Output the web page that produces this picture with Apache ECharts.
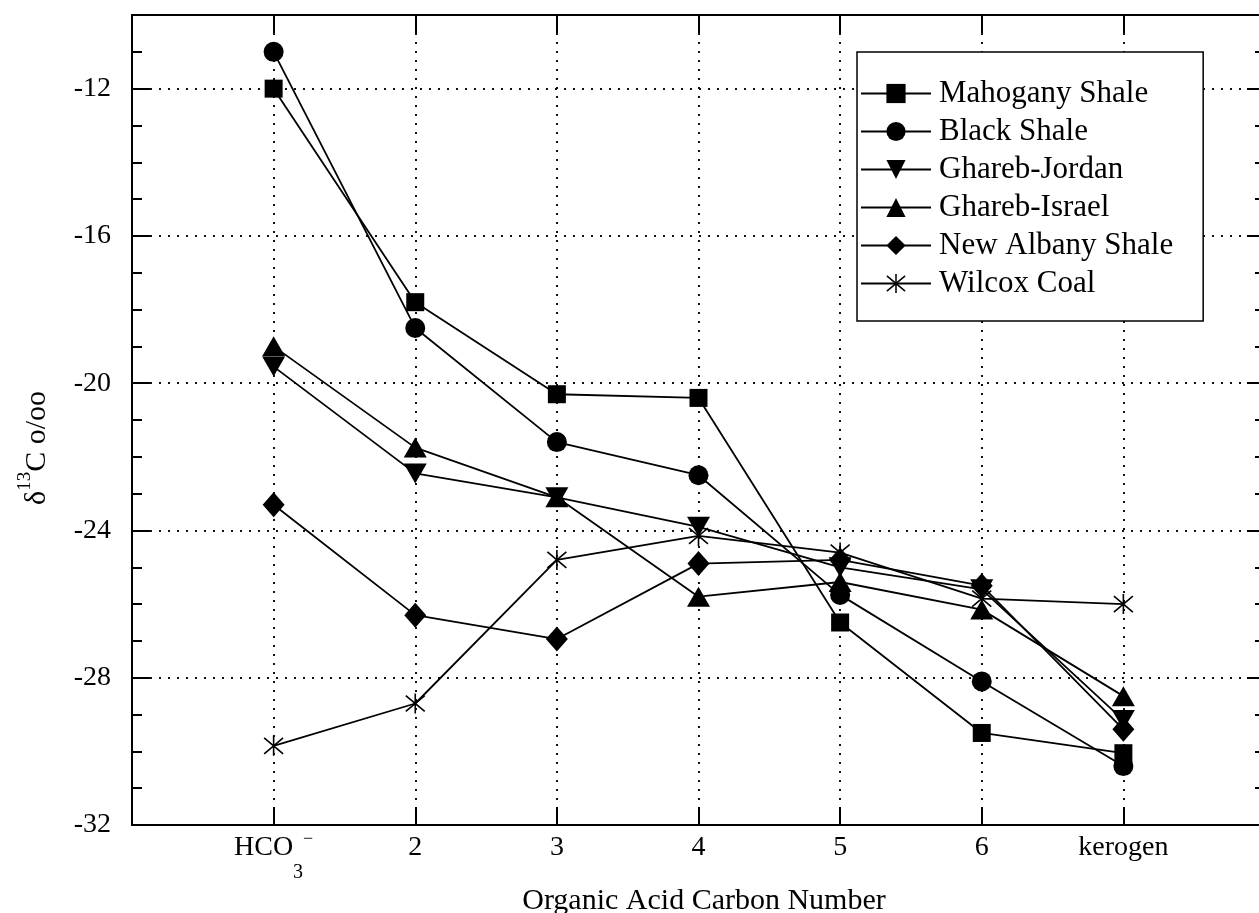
<!DOCTYPE html>
<html>
<head>
<meta charset="utf-8">
<script src="https://cdn.jsdelivr.net/npm/echarts@6/dist/echarts.min.js"></script>
<style>
  html, body { margin: 0; padding: 0; background: #fff; overflow: hidden; }
  #chart { width: 1270px; height: 913px; }
</style>
</head>
<body>
<div id="chart"></div>
<script>
// categories along x (placed at positions 1..7)
const categories = ["HCO3-", "2", "3", "4", "5", "6", "kerogen"];
const yTicks = [-32, -28, -24, -20, -16, -12];

// delta 13C values
const mahogany     = [-12.0, -17.8, -20.3, -20.4, -26.5, -29.5, -30.05];
const blackShale   = [-11.0, -18.5, -21.6, -22.5, -25.75, -28.1, -30.4];
const gharebJordan = [-19.55, -22.45, -23.1, -23.9, -25.0, -25.6, -29.15];
const gharebIsrael = [-19.0, -21.75, -23.1, -25.8, -25.4, -26.15, -28.5];
const newAlbany    = [-23.3, -26.3, -26.95, -24.9, -24.8, -25.5, -29.4];
const wilcox       = [-29.85, -28.7, -24.8, -24.15, -24.6, -25.85, -26.0];

const FONT = "Liberation Serif";

// asterisk made of three thick strokes (vertical + two diagonals)
function starPath() {
  const t = 4, L = 62, a = 40 * Math.PI / 180;
  function bar(dx, dy, len) {
    const nx = -dy * t, ny = dx * t;
    const x1 = 50 - dx * len, y1 = 50 - dy * len, x2 = 50 + dx * len, y2 = 50 + dy * len;
    return "M" + (x1 + nx).toFixed(2) + " " + (y1 + ny).toFixed(2) +
      " L" + (x2 + nx).toFixed(2) + " " + (y2 + ny).toFixed(2) +
      " L" + (x2 - nx).toFixed(2) + " " + (y2 - ny).toFixed(2) +
      " L" + (x1 - nx).toFixed(2) + " " + (y1 - ny).toFixed(2) + " Z";
  }
  return "path://" + [bar(0, 1, 50), bar(Math.cos(a), Math.sin(a), L), bar(-Math.cos(a), Math.sin(a), L)].join(" ");
}

function toPoints(arr) {
  return arr.map((v, i) => [i + 1, v]);
}

function makeSeries(name, arr, symbol, size, rotate) {
  return {
    name: name,
    type: "line",
    data: toPoints(arr),
    symbol: symbol,
    symbolSize: size,
    symbolRotate: rotate || 0,
    showSymbol: true,
    lineStyle: { color: "#000", width: 1.8 },
    itemStyle: { color: "#000" },
    z: 3
  };
}

const frame = { color: "#000", width: 2 };
const dotted = { color: "#111", width: 2, type: [2, 7] };

// a y axis sharing the plot's scale; only ticks / line, no labels
function yFrame(pos, interval, len, showLine) {
  return {
    type: "value", min: -32, max: -10, interval: interval, position: pos,
    axisLine: { show: showLine, onZero: false, lineStyle: frame },
    axisTick: { inside: true, length: len, lineStyle: frame },
    splitLine: { show: false },
    axisLabel: { show: false }
  };
}

const chart = echarts.init(document.getElementById("chart"));

const option = {
  backgroundColor: "#fff",
  animation: false,
  grid: { left: 132, top: 15, width: 1133, height: 810, containLabel: false },
  legend: {
    orient: "vertical",
    left: 857,
    top: 52,
    padding: [26, 30, 22, 3],
    itemWidth: 70,
    itemHeight: 24,
    itemGap: 7,
    borderColor: "#000",
    borderWidth: 1.5,
    backgroundColor: "#fff",
    textStyle: { fontFamily: FONT, fontSize: 31, color: "#000", lineHeight: 30, padding: [0, 0, 0, 3] },
    data: ["Mahogany Shale", "Black Shale", "Ghareb-Jordan", "Ghareb-Israel", "New Albany Shale", "Wilcox Coal"]
  },
  xAxis: [
    {
      type: "value", min: 0, max: 8, interval: 1, position: "bottom",
      axisLine: { onZero: false, lineStyle: frame },
      axisTick: { inside: true, length: 18, lineStyle: frame },
      splitLine: { show: true, lineStyle: dotted },
      axisLabel: {
        margin: -12,
        color: "#000",
        fontFamily: FONT,
        formatter: function (v) {
          const i = Math.round(v);
          if (i < 1 || i > categories.length) return "";
          if (i === 1) return "{main|HCO}{sub|3}{sup|\u2212}";
          return "{main|" + categories[i - 1] + "}";
        },
        rich: {
          main: { fontFamily: FONT, fontSize: 28, lineHeight: 70, verticalAlign: "middle", color: "#000" },
          sub: { fontFamily: FONT, fontSize: 20, lineHeight: 20, verticalAlign: "bottom", color: "#000" },
          sup: { fontFamily: FONT, fontSize: 18, lineHeight: 18, verticalAlign: "middle", padding: [0, 0, 18, 0], color: "#000" }
        }
      }
    },
    {
      type: "value", min: 0, max: 8, interval: 1, position: "top",
      axisLine: { onZero: false, lineStyle: frame },
      axisTick: { inside: true, length: 18, lineStyle: frame },
      splitLine: { show: false },
      axisLabel: { show: false }
    }
  ],
  yAxis: [
    {
      type: "value", min: -32, max: -10, interval: 4, position: "left",
      axisLine: { onZero: false, lineStyle: frame },
      axisTick: { inside: true, length: 18, lineStyle: frame },
      splitLine: { show: true, lineStyle: dotted },
      axisLabel: {
        margin: 21, color: "#000", fontFamily: FONT, fontSize: 28,
        formatter: function (v) { return yTicks.indexOf(v) >= 0 ? String(v) : ""; }
      }
    },
    yFrame("right", 4, 18, true),
    yFrame("left", 1, 10, false),
    yFrame("right", 1, 10, false)
  ],
  graphic: [
    {
      type: "text",
      x: 34, y: 448,
      rotation: Math.PI / 2,
      style: {
        text: "{d|δ}{s|13}{d|C o/oo}",
        align: "center",
        verticalAlign: "middle",
        rich: {
          d: { fontFamily: FONT, fontSize: 30, lineHeight: 36, verticalAlign: "bottom", fill: "#000" },
          s: { fontFamily: FONT, fontSize: 19, lineHeight: 19, verticalAlign: "top", fill: "#000" }
        }
      }
    },
    {
      type: "text",
      x: 704, y: 901,
      style: {
        text: "Organic Acid Carbon Number",
        font: "30px " + FONT,
        fill: "#000",
        align: "center",
        verticalAlign: "middle"
      }
    }
  ],
  series: [
    makeSeries("Mahogany Shale", mahogany, "rect", 18),
    makeSeries("Black Shale", blackShale, "circle", 20),
    makeSeries("Ghareb-Jordan", gharebJordan, "triangle", [23, 20], 180),
    makeSeries("Ghareb-Israel", gharebIsrael, "triangle", [23, 20]),
    makeSeries("New Albany Shale", newAlbany, "diamond", [22, 25]),
    makeSeries("Wilcox Coal", wilcox, starPath(), 20)
  ]
};

chart.setOption(option);
</script>
</body>
</html>
